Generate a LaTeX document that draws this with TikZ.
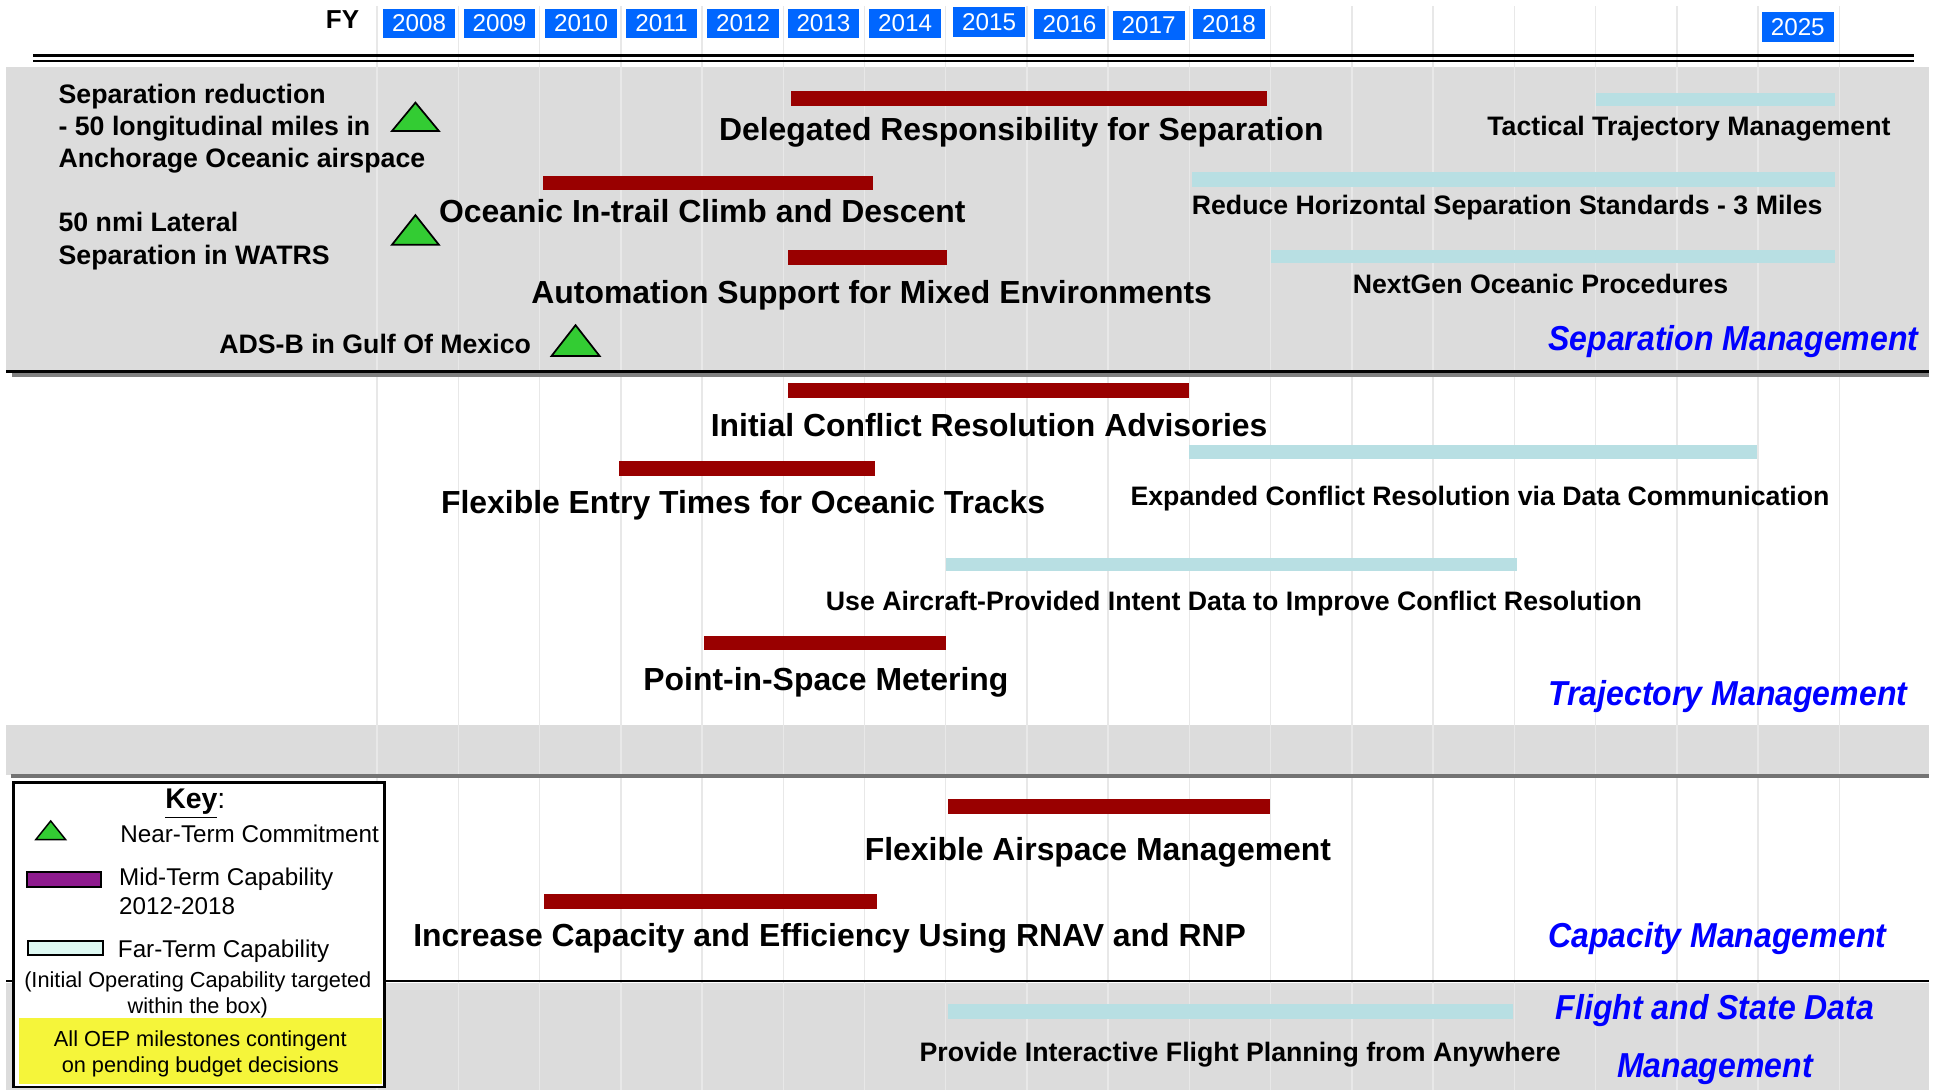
\documentclass[tikz,border=0pt]{standalone}
\usepackage{fontspec}
\setmainfont{Liberation Sans}
\newfontfamily\areafont{Liberation Sans}[FakeStretch=0.925]
\definecolor{yearblue}{HTML}{0066FF}
\definecolor{midred}{HTML}{990000}
\definecolor{farblue}{HTML}{B8DFE3}
\definecolor{bandgray}{HTML}{DCDCDC}
\definecolor{neargreen}{HTML}{33CC33}
\definecolor{keypurple}{HTML}{8E1B8E}
\definecolor{keycyan}{HTML}{DDF8F2}
\definecolor{keyyellow}{HTML}{F5F53A}
\definecolor{areablue}{HTML}{0000FF}
\begin{document}
\begin{tikzpicture}[x=0.5pt,y=-0.5pt]
      \tikzstyle{yearbox}=[fill=yearblue,text=white,inner sep=0pt,minimum width=29pt,minimum height=12pt,font=\fontsize{9.8}{11}\selectfont]
      \tikzstyle{grid}=[draw,color=black!9,line width=0.6pt]
      \tikzstyle{bigcap}=[inner sep=0pt,font=\fontsize{12.9}{14}\selectfont\bfseries]
      \tikzstyle{smallcap}=[inner sep=0pt,font=\fontsize{10.8}{12}\selectfont\bfseries]
      \tikzstyle{near}=[inner sep=0pt,anchor=west,align=left,font=\fontsize{10.8}{13}\selectfont\bfseries]
      \tikzstyle{area}=[inner sep=0pt,areablue,font=\areafont\fontsize{14}{23.5}\selectfont\bfseries\itshape]
      \tikzstyle{keytext}=[inner sep=0pt,font=\fontsize{9.8}{11.5}\selectfont]
      \tikzstyle{triangle}=[draw,fill=neargreen,line width=0.7pt,line join=miter]
      \useasboundingbox (0,0) rectangle (1565,881.5);
      % bands
      \path[fill=bandgray] (5,54) rectangle (1560,300);
      \path[fill=bandgray] (5,586) rectangle (1560,627);
      \path[fill=bandgray] (5,795) rectangle (1560,881.5);
      \foreach \k in {0,...,18}
        \path[grid] (305+65.7*\k,5) -- (305+65.7*\k,881.5);
      \path[draw,line width=1pt] (27,45) -- (1548,45);
      \path[draw,line width=1pt] (27,49.5) -- (1548,49.5);
      \path[draw,black!50,line width=1.5pt] (10,303.5) -- (1560,303.5);
      \path[draw,line width=1pt] (5,300.5) -- (1560,300.5);
      \path[draw,black!55,line width=1.5pt] (9,627.5) -- (1560,627.5);
      \path[draw,line width=0.8pt] (5,793.5) -- (1560,793.5);
      % years
      \node[font=\fontsize{10.5}{12}\selectfont\bfseries] (fy) at (277,16) {FY};
      \node[yearbox] (y2008) at (339,19) {2008};
      \node[yearbox] (y2009) at (404,19) {2009};
      \node[yearbox] (y2010) at (470,19) {2010};
      \node[yearbox] (y2011) at (535,19) {2011};
      \node[yearbox] (y2012) at (601,19) {2012};
      \node[yearbox] (y2013) at (666,19) {2013};
      \node[yearbox] (y2014) at (732,19) {2014};
      \node[yearbox] (y2015) at (800,18) {2015};
      \node[yearbox] (y2016) at (865,19.5) {2016};
      \node[yearbox] (y2017) at (929,20.5) {2017};
      \node[yearbox] (y2018) at (994,19.5) {2018};
      \node[yearbox] (y2025) at (1454,22) {2025};
      % separation management
      \path[fill=midred] (640,74) rectangle (1025,86);
      \node[bigcap] (drs) at (826,107) {Delegated Responsibility for Separation};
      \path[fill=midred] (439,142) rectangle (706,154);
      \node[bigcap] (oicd) at (568,171) {Oceanic In-trail Climb and Descent};
      \path[fill=midred] (637,202) rectangle (766,214);
      \node[bigcap] (asme) at (705,239) {Automation Support for Mixed Environments};
      \path[fill=farblue] (1291,75) rectangle (1484,86);
      \node[smallcap] (ttm) at (1366,104) {Tactical Trajectory Management};
      \path[fill=farblue] (964,139) rectangle (1484,151);
      \node[smallcap] (rhss) at (1219,168) {Reduce Horizontal Separation Standards - 3 Miles};
      \path[fill=farblue] (1028,202) rectangle (1484,213);
      \node[smallcap] (ngop) at (1246,230) {NextGen Oceanic Procedures};
      \node[near] (anch) at (47,104) {Separation reduction\\- 50 longitudinal miles in\\Anchorage Oceanic airspace};
      \path[triangle] (317,106) -- (336,83) -- (355,106) -- cycle;
      \node[near] (watrs) at (47,195) {50 nmi Lateral\\Separation in WATRS};
      \path[triangle] (317,198) -- (336,174) -- (355,198) -- cycle;
      \node[near] (gom) at (177,278) {ADS-B in Gulf Of Mexico};
      \path[triangle] (446,288) -- (465.5,263) -- (485,288) -- cycle;
      \node[area,anchor=east] (sepm) at (1552,276) {Separation Management};
      % trajectory management
      \path[fill=midred] (637,310) rectangle (962,322);
      \node[bigcap] (icra) at (800,344) {Initial Conflict Resolution Advisories};
      \path[fill=midred] (501,373) rectangle (708,385);
      \node[bigcap] (fet) at (601,409) {Flexible Entry Times for Oceanic Tracks};
      \path[fill=farblue] (962,360) rectangle (1421,371);
      \node[smallcap] (ecr) at (1197,403) {Expanded Conflict Resolution via Data Communication};
      \path[fill=farblue] (765,451) rectangle (1227,462);
      \node[smallcap] (uapi) at (998,488) {Use Aircraft-Provided Intent Data to Improve Conflict Resolution};
      \path[fill=midred] (569,514) rectangle (765,526);
      \node[bigcap] (pism) at (668,552) {Point-in-Space Metering};
      \node[area,anchor=east] (trajm) at (1543,563) {Trajectory Management};
      % capacity management
      \path[fill=midred] (767,646) rectangle (1027,658);
      \node[bigcap] (fam) at (888,689) {Flexible Airspace Management};
      \path[fill=midred] (440,723) rectangle (709,735);
      \node[bigcap] (icer) at (671,759) {Increase Capacity and Efficiency Using RNAV and RNP};
      \node[area,anchor=east] (capm) at (1526,759) {Capacity Management};
      % flight and state data management
      \path[fill=farblue] (767,812) rectangle (1224,824);
      \node[smallcap] (pifp) at (1003,853) {Provide Interactive Flight Planning from Anywhere};
      \node[area,align=center] (fsdm) at (1387,841) {Flight and State Data\\Management};
      % key
      \path[draw,fill=white,line width=1pt] (11,633) rectangle (311,879);
      \path[fill=keyyellow] (15,823) rectangle (309,877);
      \node[inner sep=0pt,font=\fontsize{11.5}{13}\selectfont] (key) at (158,650) {\textbf{\underline{Key}}:};
      \path[triangle,line width=0.6pt] (29,679) -- (41,664) -- (53,679) -- cycle;
      \node[keytext,anchor=west] (knear) at (97,674) {Near-Term Commitment};
      \path[draw,fill=keypurple,line width=0.8pt] (22,705) rectangle (82,717);
      \node[keytext,anchor=west,align=left] (kmid) at (96,721) {Mid-Term Capability\\2012-2018};
      \path[draw,fill=keycyan,line width=0.8pt] (23,761) rectangle (83,772);
      \node[keytext,anchor=west] (kfar) at (95,769) {Far-Term Capability};
      \node[keytext,align=center,font=\fontsize{8.8}{10.5}\selectfont] (kioc) at (160,805) {(Initial Operating Capability targeted\\within the box)};
      \node[keytext,align=center,font=\fontsize{8.8}{10.5}\selectfont] (koep) at (162,852) {All OEP milestones contingent\\on pending budget decisions};
    \end{tikzpicture}
\end{document}
